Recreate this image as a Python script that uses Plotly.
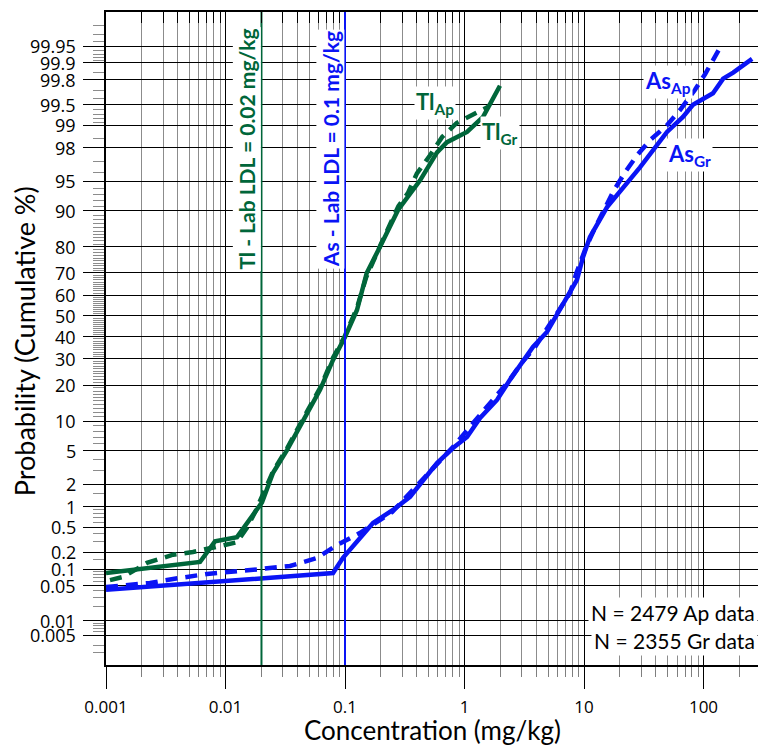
import math
from statistics import NormalDist
import plotly.graph_objects as go

# ---------------- data ----------------
# Thallium, groundwater samples (Gr) - solid
tl_gr_conc = [0.001, 0.00612, 0.00817, 0.01248, 0.0202, 0.025, 0.0327, 0.0481, 0.0618,
              0.0794, 0.1, 0.126, 0.147, 0.152, 0.196, 0.278, 0.425, 0.589, 0.714,
              1.05, 1.43, 1.98]
tl_gr_prob = [0.086, 0.135, 0.30, 0.35, 1.15, 2.8, 5.1, 11.8, 18.4,
              29.6, 39.9, 52.9, 67, 70, 80, 90.2, 95.1, 97.7, 98.3,
              98.76, 99.24, 99.75]

# Thallium, Ap samples - dashed
tl_ap_conc = [0.00108, 0.00139, 0.0022, 0.00364, 0.00534, 0.0079, 0.01248, 0.0151,
              0.0177, 0.025, 0.0327, 0.0481, 0.0618, 0.0794, 0.1, 0.126, 0.15, 0.2,
              0.28, 0.336, 0.40, 0.515, 0.65, 0.86, 1.27, 1.60]
tl_ap_prob = [0.064, 0.073, 0.13, 0.18, 0.20, 0.24, 0.29, 0.49,
              0.84, 2.9, 5.3, 12.2, 19, 30.5, 40.5, 54, 68, 81,
              91, 93.3, 95.9, 97.5, 98.55, 99.07, 99.34, 99.47]

# Arsenic, Gr samples - solid
as_gr_conc = [0.001, 0.0794, 0.0962, 0.1715, 0.252, 0.350, 0.467, 0.589, 0.801, 1.05,
              1.35, 1.87, 2.40, 3.74, 4.90, 6.05, 7.64, 8.73, 9.82, 11.2, 15.6, 24.3,
              29.4, 49.5, 67.3, 81.6, 120, 146, 177, 255]
as_gr_prob = [0.042, 0.086, 0.16, 0.58, 0.90, 1.37, 2.41, 3.65, 5.37, 7.0,
              10.7, 15.3, 21.8, 35.3, 42.3, 51.5, 61, 67, 76.4, 83.2, 90.8, 95.1,
              96.5, 98.76, 99.24, 99.50, 99.67, 99.81, 99.85, 99.914]

# Arsenic, Ap samples - dashed
as_ap_conc = [0.001, 0.00233, 0.00364, 0.0070, 0.0184, 0.0347, 0.0583, 0.0857, 0.134,
              0.248, 0.45, 0.80, 1.35, 2.31, 3.0, 3.9, 6.05, 7.64, 8.7, 10.2, 11.9,
              14.4, 17.5, 22.0, 27.8, 35.7, 49.5, 63.6, 84.9, 103, 137]
as_ap_prob = [0.0475, 0.0565, 0.067, 0.083, 0.10, 0.115, 0.158, 0.26, 0.41,
              0.84, 2.34, 5.5, 11.4, 21, 28.3, 35.3, 52, 61, 70.4, 79, 84.7,
              89.8, 93.5, 96.0, 97.5, 98.4, 99.0, 99.40, 99.71, 99.84, 99.946]

# laboratory lower detection limits (mg/kg)
tl_ldl = 0.02
as_ldl = 0.1

# probability axis labels (cumulative %)
prob_ticks = [0.005, 0.01, 0.05, 0.1, 0.2, 0.5, 1, 2, 5, 10, 20, 30, 40, 50, 60, 70,
              80, 90, 95, 98, 99, 99.5, 99.8, 99.9, 99.95]
prob_minor = ([0.002, 0.003, 0.006, 0.007, 0.008, 0.009, 0.02, 0.03, 0.04,
               0.06, 0.07, 0.08, 0.09, 0.15, 0.3, 0.4, 0.6, 0.7, 0.8, 0.9, 1.5, 3, 4,
               6, 7, 8, 9]
              + [v for v in range(11, 90) if v % 10 != 0]
              + [91, 92, 93, 94, 96, 97, 98.5, 99.1, 99.2, 99.3, 99.4, 99.6, 99.7,
                 99.85, 99.91, 99.92, 99.93, 99.94, 99.96, 99.97, 99.98])
conc_ticks = [0.001, 0.01, 0.1, 1, 10, 100]
conc_labels = ["0.001", "0.01", "0.1", "1", "10", "100"]

# ---------------- scales ----------------
nd = NormalDist()


def probit(p):
    return nd.inv_cdf(p / 100.0)


X_RANGE = [-3.0, 2.456]
Y_RANGE = [-4.256, 3.707]
conc_minor = [k * 10 ** d for d in range(-3, 3) for k in range(2, 10)
              if math.log10(k * 10 ** d) < X_RANGE[1]]

GREEN = "#00663a"
BLUE = "#0a14f5"
TITLE_FONT = "Lato, Open Sans, sans-serif"
TICK_FONT = "Open Sans, DejaVu Sans, sans-serif"

fig = go.Figure()


def curve(conc, prob, color, dash, name):
    fig.add_trace(go.Scatter(
        x=conc, y=[probit(p) for p in prob], mode="lines", name=name,
        line=dict(color=color, width=4.5, dash=dash), showlegend=False))


curve(tl_ap_conc, tl_ap_prob, GREEN, "12px,8px", "Tl Ap")
curve(as_ap_conc, as_ap_prob, BLUE, "12px,8px", "As Ap")
curve(tl_gr_conc, tl_gr_prob, GREEN, "solid", "Tl Gr")
curve(as_gr_conc, as_gr_prob, BLUE, "solid", "As Gr")

# detection-limit lines (on the top overlay axis, same scale)
for ldl, color in [(tl_ldl, GREEN), (as_ldl, BLUE)]:
    fig.add_trace(go.Scatter(
        x=[ldl, ldl], y=Y_RANGE, mode="lines", xaxis="x2",
        line=dict(color=color, width=2), showlegend=False, hoverinfo="skip"))

fig.update_layout(
    width=760, height=748,
    margin=dict(l=106, r=2, t=12, b=83),
    paper_bgcolor="white", plot_bgcolor="white",
    xaxis=dict(
        type="log", range=X_RANGE,
        tickmode="array", tickvals=conc_ticks, ticktext=conc_labels,
        ticks="outside", ticklen=22, tickwidth=1.3, tickcolor="black",
        ticklabelstandoff=4,
        showgrid=True, gridcolor="black", gridwidth=1.3,
        showline=True, linecolor="black", linewidth=1.5,
        tickfont=dict(family=TICK_FONT, size=17, color="black"),
        zeroline=False,
        minor=dict(tickmode="array", tickvals=conc_minor, ticks="outside",
                   ticklen=10, tickcolor="#7f7f7f", tickwidth=1.2,
                   showgrid=True, gridcolor="#8c8c8c", gridwidth=1.2),
    ),
    xaxis2=dict(
        type="log", range=X_RANGE, overlaying="x", side="top",
        tickmode="array", tickvals=conc_minor, ticks="inside", ticklen=11,
        tickcolor="black", tickwidth=1.3, showticklabels=False,
        showgrid=False, zeroline=False,
        showline=True, linecolor="black", linewidth=1.5,
    ),
    yaxis=dict(
        range=Y_RANGE,
        tickmode="array", tickvals=[probit(p) for p in prob_ticks],
        showticklabels=False,
        ticks="outside", ticklen=21, tickwidth=1.3, tickcolor="black",
        showgrid=True, gridcolor="black", gridwidth=1.3,
        showline=True, linecolor="black", linewidth=1.5,
        zeroline=False,
        minor=dict(tickmode="array", tickvals=[probit(p) for p in prob_minor],
                   ticks="outside", ticklen=11, tickcolor="#8c8c8c",
                   tickwidth=1.2, showgrid=False),
    ),
)

# probability labels, set left of the major ticks
for p in prob_ticks:
    fig.add_annotation(xref="paper", yref="y", x=-0.044, y=probit(p),
                       xanchor="right", yanchor="middle", text=f"{p:g}",
                       showarrow=False, borderpad=0,
                       font=dict(family=TICK_FONT, size=18, color="black"))

# axis titles
fig.add_annotation(xref="paper", yref="paper", x=0.5, y=-0.1, yanchor="middle",
                   text="Concentration (mg/kg)", showarrow=False,
                   font=dict(family=TITLE_FONT, size=26, color="black"))
fig.add_annotation(xref="paper", yref="paper", x=-0.125, y=0.495,
                   xanchor="center", yanchor="middle", textangle=-90,
                   text="Probability (Cumulative %)", showarrow=False,
                   font=dict(family=TITLE_FONT, size=27, color="black"))

# detection-limit labels
for ldl, color, label in [(tl_ldl, GREEN, "Tl - Lab LDL = 0.02 mg/kg"),
                          (as_ldl, BLUE, "As - Lab LDL = 0.1 mg/kg")]:
    fig.add_annotation(xref="x", yref="paper", x=math.log10(ldl), y=0.79,
                       xshift=-15, xanchor="center", yanchor="middle",
                       textangle=-90, text=f"<b>{label}</b>", showarrow=False,
                       bgcolor="white", borderpad=1,
                       font=dict(family=TITLE_FONT, size=21, color=color))

# series labels
for conc, prob, color, label in [(0.567, 99.53, GREEN, "Tl<sub>Ap</sub>"),
                                 (1.98, 98.7, GREEN, "Tl<sub>Gr</sub>"),
                                 (50.5, 99.78, BLUE, "As<sub>Ap</sub>"),
                                 (77, 97.5, BLUE, "As<sub>Gr</sub>")]:
    fig.add_annotation(xref="x", yref="y", x=math.log10(conc), y=probit(prob),
                       text=f"<b>{label}</b>", showarrow=False, bgcolor="white",
                       font=dict(family=TITLE_FONT, size=22, color=color))

# sample counts
for yy, label in [(0.08, "N = 2479 Ap data"), (0.038, "N = 2355 Gr data")]:
    fig.add_annotation(xref="paper", yref="paper", x=1.0, y=yy, xanchor="right",
                       yanchor="middle", text=label, showarrow=False,
                       bgcolor="white", borderpad=2,
                       font=dict(family=TITLE_FONT, size=21, color="black"))

fig.write_html("out.html")
